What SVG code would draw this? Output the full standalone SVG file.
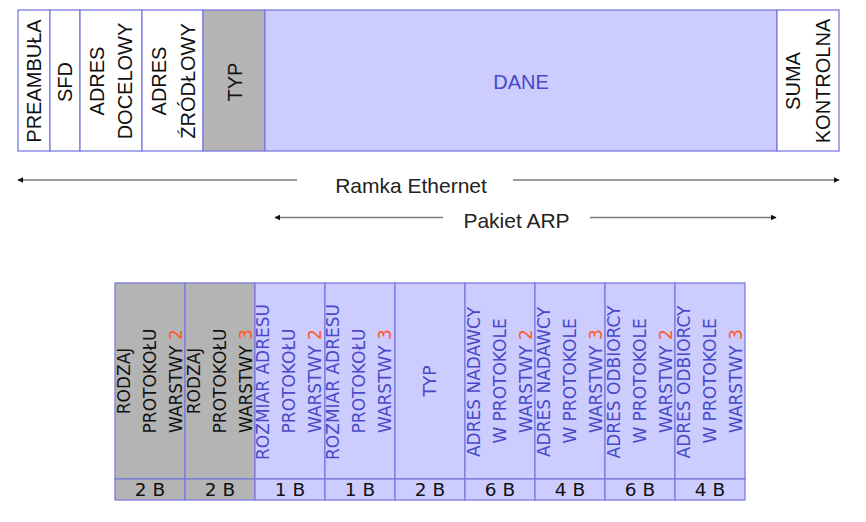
<svg xmlns="http://www.w3.org/2000/svg" width="866" height="522" viewBox="0 0 866 522">
<defs>
<style>
.cell{stroke:#7b7be0;stroke-width:1.3}
.w{fill:#ffffff}
.g{fill:#b4b4b4}
.b{fill:#ccccff}
.t{font-family:"Liberation Sans",Arial,sans-serif;font-size:20px;fill:#111;text-anchor:middle}
.tb{fill:#4848c8}
.s{font-family:"DejaVu Sans","Liberation Sans",sans-serif;font-size:17px;fill:#111;text-anchor:middle}
.sb{fill:#4848c8}
.n{font-size:18.5px}
.r{fill:#ff5a28}
.lbl{font-family:"Liberation Sans",Arial,sans-serif;font-size:21px;fill:#222;text-anchor:middle}
.ar{stroke:#7a7a7a;stroke-width:1.6;fill:none}
</style>
<marker id="ah" viewBox="0 0 10 10" refX="9" refY="5" markerWidth="6" markerHeight="6" orient="auto-start-reverse" markerUnits="userSpaceOnUse">
<path d="M0,0 L10,5 L0,10 z" fill="#111"/>
</marker>
</defs>

<g id="frame">
<g id="preambula"><rect class="cell w" x="18" y="10" width="32" height="141"/>
<text class="t" transform="translate(34,81) rotate(-90)" dy="0.36em">PREAMBUŁA</text></g>
<g id="sfd"><rect class="cell w" x="50" y="10" width="30" height="141"/>
<text class="t" transform="translate(65,82) rotate(-90)" dy="0.36em">SFD</text></g>
<g id="adres-docelowy"><rect class="cell w" x="80" y="10" width="62" height="141"/>
<text class="t" transform="translate(97,81) rotate(-90)" dy="0.36em">ADRES</text>
<text class="t" transform="translate(125,81) rotate(-90)" dy="0.36em">DOCELOWY</text></g>
<g id="adres-zrodlowy"><rect class="cell w" x="142" y="10" width="61" height="141"/>
<text class="t" transform="translate(159,81) rotate(-90)" dy="0.36em">ADRES</text>
<text class="t" transform="translate(188,81) rotate(-90)" dy="0.36em">ŹRÓDŁOWY</text></g>
<g id="typ"><rect class="cell g" x="203" y="10" width="62" height="141"/>
<text class="t" transform="translate(235,82) rotate(-90)" dy="0.36em">TYP</text></g>
<g id="dane"><rect class="cell b" x="265" y="10" width="512" height="141"/>
<text class="t tb" x="521" y="89">DANE</text></g>
<g id="suma"><rect class="cell w" x="777" y="10" width="62" height="141"/>
<text class="t" transform="translate(793,81) rotate(-90)" dy="0.36em">SUMA</text>
<text class="t" transform="translate(823,81) rotate(-90)" dy="0.36em">KONTROLNA</text></g>
</g>

<g id="connectors">
<line class="ar" x1="297" y1="180" x2="18" y2="180" marker-end="url(#ah)"/>
<line class="ar" x1="513" y1="180" x2="839" y2="180" marker-end="url(#ah)"/>
<line class="ar" x1="443" y1="217.5" x2="275" y2="217.5" marker-end="url(#ah)"/>
<line class="ar" x1="590" y1="217.5" x2="776" y2="217.5" marker-end="url(#ah)"/>
</g>
<g id="labels">
<text class="lbl" x="411" y="193">Ramka Ethernet</text>
<text class="lbl" x="516.5" y="228">Pakiet ARP</text>
</g>

<g id="arp">
<g id="c1"><rect class="cell g" x="115" y="283" width="70" height="196"/><rect class="cell g" x="115" y="479" width="70" height="21"/>
<text class="s" transform="translate(124,381) rotate(-90)" dy="0.36em">RODZAJ</text>
<text class="s" transform="translate(150,381) rotate(-90)" dy="0.36em">PROTOKOŁU</text>
<text class="s" transform="translate(176,381) rotate(-90)" dy="0.36em">WARSTWY <tspan class="r">2</tspan></text>
<text class="s n" x="150" y="496">2 B</text></g>
<g id="c2"><rect class="cell g" x="185" y="283" width="70" height="196"/><rect class="cell g" x="185" y="479" width="70" height="21"/>
<text class="s" transform="translate(194,381) rotate(-90)" dy="0.36em">RODZAJ</text>
<text class="s" transform="translate(220,381) rotate(-90)" dy="0.36em">PROTOKOŁU</text>
<text class="s" transform="translate(246,381) rotate(-90)" dy="0.36em">WARSTWY <tspan class="r">3</tspan></text>
<text class="s n" x="220" y="496">2 B</text></g>
<g id="c3"><rect class="cell b" x="255" y="283" width="70" height="196"/><rect class="cell b" x="255" y="479" width="70" height="21"/>
<text class="s sb" transform="translate(263,382) rotate(-90)" dy="0.36em">ROZMIAR ADRESU</text>
<text class="s sb" transform="translate(289,381) rotate(-90)" dy="0.36em">PROTOKOŁU</text>
<text class="s sb" transform="translate(315,381) rotate(-90)" dy="0.36em">WARSTWY <tspan class="r">2</tspan></text>
<text class="s n" x="290" y="496">1 B</text></g>
<g id="c4"><rect class="cell b" x="325" y="283" width="70" height="196"/><rect class="cell b" x="325" y="479" width="70" height="21"/>
<text class="s sb" transform="translate(333,382) rotate(-90)" dy="0.36em">ROZMIAR ADRESU</text>
<text class="s sb" transform="translate(359,381) rotate(-90)" dy="0.36em">PROTOKOŁU</text>
<text class="s sb" transform="translate(385,381) rotate(-90)" dy="0.36em">WARSTWY <tspan class="r">3</tspan></text>
<text class="s n" x="360" y="496">1 B</text></g>
<g id="c5"><rect class="cell b" x="395" y="283" width="70" height="196"/><rect class="cell b" x="395" y="479" width="70" height="21"/>
<text class="s sb" transform="translate(430,381) rotate(-90)" dy="0.36em">TYP</text>
<text class="s n" x="430" y="496">2 B</text></g>
<g id="c6"><rect class="cell b" x="465" y="283" width="70" height="196"/><rect class="cell b" x="465" y="479" width="70" height="21"/>
<text class="s sb" transform="translate(474,382) rotate(-90)" dy="0.36em">ADRES NADAWCY</text>
<text class="s sb" transform="translate(500,381) rotate(-90)" dy="0.36em">W PROTOKOLE</text>
<text class="s sb" transform="translate(526,381) rotate(-90)" dy="0.36em">WARSTWY <tspan class="r">2</tspan></text>
<text class="s n" x="500" y="496">6 B</text></g>
<g id="c7"><rect class="cell b" x="535" y="283" width="70" height="196"/><rect class="cell b" x="535" y="479" width="70" height="21"/>
<text class="s sb" transform="translate(544,382) rotate(-90)" dy="0.36em">ADRES NADAWCY</text>
<text class="s sb" transform="translate(570,381) rotate(-90)" dy="0.36em">W PROTOKOLE</text>
<text class="s sb" transform="translate(596,381) rotate(-90)" dy="0.36em">WARSTWY <tspan class="r">3</tspan></text>
<text class="s n" x="570" y="496">4 B</text></g>
<g id="c8"><rect class="cell b" x="605" y="283" width="70" height="196"/><rect class="cell b" x="605" y="479" width="70" height="21"/>
<text class="s sb" transform="translate(614,382) rotate(-90)" dy="0.36em">ADRES ODBIORCY</text>
<text class="s sb" transform="translate(640,381) rotate(-90)" dy="0.36em">W PROTOKOLE</text>
<text class="s sb" transform="translate(666,381) rotate(-90)" dy="0.36em">WARSTWY <tspan class="r">2</tspan></text>
<text class="s n" x="640" y="496">6 B</text></g>
<g id="c9"><rect class="cell b" x="675" y="283" width="70" height="196"/><rect class="cell b" x="675" y="479" width="70" height="21"/>
<text class="s sb" transform="translate(684,382) rotate(-90)" dy="0.36em">ADRES ODBIORCY</text>
<text class="s sb" transform="translate(710,381) rotate(-90)" dy="0.36em">W PROTOKOLE</text>
<text class="s sb" transform="translate(736,381) rotate(-90)" dy="0.36em">WARSTWY <tspan class="r">3</tspan></text>
<text class="s n" x="710" y="496">4 B</text></g>
</g>
</svg>
